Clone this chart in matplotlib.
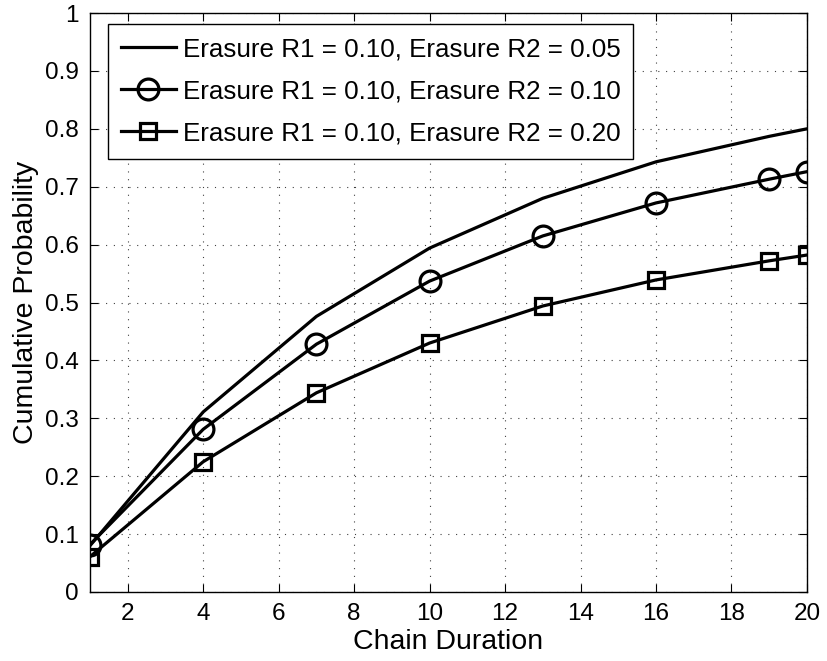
import matplotlib
matplotlib.use('Agg')
import matplotlib.pyplot as plt

plt.rcParams['font.family'] = ['Liberation Sans', 'DejaVu Sans']

# chain durations where each curve was evaluated
duration = [1, 4, 7, 10, 13, 16, 19, 20]

# cumulative probability for each erasure setting
prob_r2_005 = [0.080, 0.311, 0.476, 0.594, 0.680, 0.743, 0.787, 0.800]
prob_r2_010 = [0.082, 0.281, 0.428, 0.537, 0.615, 0.672, 0.713, 0.726]
prob_r2_020 = [0.061, 0.225, 0.344, 0.430, 0.494, 0.539, 0.572, 0.582]

labels = ['Erasure R1 = 0.10, Erasure R2 = 0.05',
          'Erasure R1 = 0.10, Erasure R2 = 0.10',
          'Erasure R1 = 0.10, Erasure R2 = 0.20']

fig = plt.figure(figsize=(8.28, 6.61), dpi=100)
ax = fig.add_axes([0.1087, 0.1044, 0.8659, 0.8759])

ax.plot(duration, prob_r2_005, '-', color='k', lw=2.3, label=labels[0])
ax.plot(duration, prob_r2_010, '-o', color='k', lw=2.3, ms=15, mfc='none',
        mew=2.3, label=labels[1])
ax.plot(duration, prob_r2_020, '-s', color='k', lw=2.3, ms=11.5, mfc='none',
        mew=2.3, label=labels[2])

ax.set_xlim(1, 20)
ax.set_ylim(0, 1)
ax.set_xticks(range(2, 21, 2))
ax.set_yticks([i / 10 for i in range(11)])
ax.set_yticklabels(['0', '0.1', '0.2', '0.3', '0.4', '0.5', '0.6', '0.7',
                    '0.8', '0.9', '1'])
ax.tick_params(direction='in', length=6, width=0.8, top=True, right=True,
               labelsize=17.5, pad=8)
ax.grid(True, linestyle=(0, (1, 6)), color='k', linewidth=0.8, alpha=0.75)
for s in ax.spines.values():
    s.set_linewidth(1.0)

ax.set_xlabel('Chain Duration', fontsize=20.5, labelpad=3)
ax.set_ylabel('Cumulative Probability', fontsize=20.5, labelpad=4)

leg = ax.legend(loc='upper left', bbox_to_anchor=(0.025, 0.981),
                borderaxespad=0, fontsize=18.75, fancybox=False, framealpha=1,
                edgecolor='k', handlelength=2.1, handletextpad=0.27,
                labelspacing=0.70, borderpad=0.5)
leg.get_frame().set_linewidth(1.0)

fig.savefig('out.png', dpi=100)
